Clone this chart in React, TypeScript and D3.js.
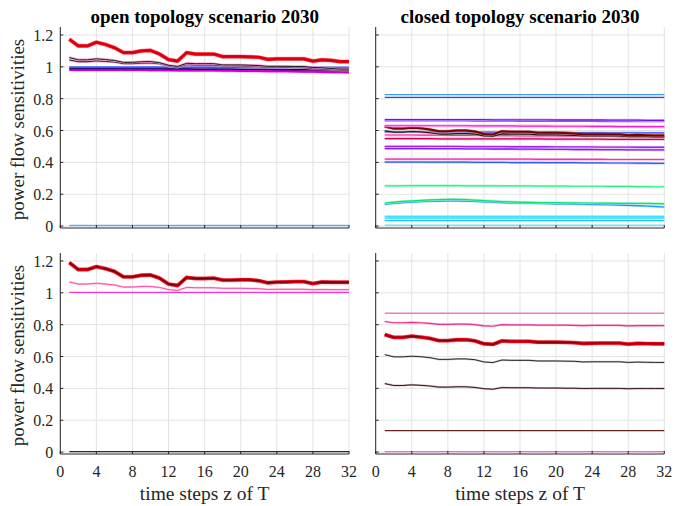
import React from "react";
import * as d3 from "d3";

const steps = [1,2,3,4,5,6,7,8,9,10,11,12,13,14,15,16,17,18,19,20,21,22,23,24,25,26,27,28,29,30,31,32];
const xTicks = [0,4,8,12,16,20,24,28,32];
const yTicks = [0,0.2,0.4,0.6,0.8,1,1.2];
const yTickLabels = ["0","0.2","0.4","0.6","0.8","1","1.2"];
const titles = ["open topology scenario 2030", "closed topology scenario 2030"];
const yLabel = "power flow sensitivities";
const xLabel = "time steps z of T";

// ---- top-left (open topology, row 1)
const tlRed = [1.173,1.131,1.131,1.154,1.140,1.120,1.089,1.089,1.100,1.103,1.080,1.045,1.036,1.089,1.080,1.080,1.080,1.064,1.064,1.064,1.062,1.060,1.047,1.050,1.050,1.050,1.050,1.036,1.044,1.040,1.033,1.033];
const tlBlack1 = [1.058,1.044,1.044,1.050,1.046,1.040,1.028,1.028,1.032,1.033,1.026,1.010,1.002,1.022,1.020,1.020,1.020,1.012,1.012,1.012,1.010,1.008,1.003,1.003,1.003,1.002,1.002,0.996,0.994,0.990,0.986,0.986];
const tlBlack2 = [1.043,1.032,1.032,1.037,1.034,1.030,1.020,1.020,1.023,1.024,1.019,1.004,0.997,1.013,1.011,1.011,1.011,1.006,1.006,1.005,1.003,1.001,0.997,0.997,0.996,0.995,0.994,0.989,0.986,0.983,0.980,0.980];
const tlBlue = [0.998,0.998,0.998,0.998,0.998,0.998,0.998,0.998,0.998,0.998,0.998,0.998,0.998,0.998,0.997,0.997,0.997,0.997,0.997,0.997,0.997,0.997,0.997,0.996,0.996,0.996,0.996,0.996,0.996,0.996,0.995,0.995];
const tlNavy = [0.990,0.990,0.990,0.990,0.990,0.990,0.990,0.989,0.989,0.989,0.989,0.988,0.988,0.988,0.987,0.987,0.987,0.986,0.986,0.985,0.985,0.984,0.984,0.983,0.983,0.982,0.981,0.981,0.980,0.979,0.978,0.978];
const tlMagenta = [0.982,0.982,0.982,0.982,0.982,0.982,0.981,0.981,0.981,0.980,0.980,0.980,0.979,0.979,0.979,0.978,0.978,0.977,0.977,0.976,0.976,0.975,0.974,0.974,0.973,0.972,0.971,0.970,0.969,0.968,0.967,0.966];
const tlLightBlue = [0.003,0.003,0.003,0.003,0.003,0.003,0.003,0.003,0.003,0.003,0.003,0.003,0.003,0.003,0.003,0.003,0.003,0.003,0.003,0.003,0.003,0.003,0.003,0.003,0.003,0.003,0.003,0.003,0.003,0.003,0.003,0.003];

// ---- top-right (closed topology, row 1)
const tr1 = [0.826,0.826,0.826,0.826,0.826,0.826,0.826,0.826,0.826,0.826,0.826,0.826,0.826,0.826,0.826,0.826,0.826,0.826,0.826,0.826,0.826,0.826,0.826,0.826,0.826,0.826,0.826,0.826,0.826,0.826,0.826,0.826];
const tr2 = [0.808,0.808,0.808,0.808,0.808,0.808,0.808,0.808,0.808,0.808,0.808,0.808,0.808,0.808,0.808,0.808,0.808,0.808,0.808,0.808,0.808,0.808,0.808,0.808,0.808,0.808,0.808,0.808,0.808,0.808,0.808,0.808];
const tr3 = [0.668,0.668,0.668,0.668,0.668,0.668,0.668,0.668,0.668,0.668,0.668,0.668,0.667,0.667,0.667,0.667,0.667,0.667,0.667,0.666,0.666,0.666,0.666,0.666,0.666,0.665,0.665,0.665,0.665,0.664,0.664,0.664];
const tr4 = [0.660,0.660,0.660,0.660,0.660,0.660,0.660,0.660,0.660,0.660,0.659,0.659,0.659,0.659,0.659,0.658,0.658,0.658,0.658,0.658,0.657,0.657,0.657,0.657,0.656,0.656,0.656,0.656,0.655,0.655,0.655,0.655];
const tr5 = [0.630,0.630,0.630,0.630,0.630,0.630,0.630,0.630,0.630,0.630,0.629,0.629,0.629,0.629,0.629,0.628,0.628,0.628,0.628,0.627,0.627,0.627,0.627,0.626,0.626,0.626,0.625,0.625,0.625,0.624,0.624,0.624];
const tr6 = [0.625,0.612,0.612,0.618,0.614,0.606,0.596,0.596,0.600,0.600,0.594,0.578,0.575,0.596,0.592,0.592,0.592,0.586,0.586,0.586,0.584,0.582,0.576,0.577,0.577,0.577,0.577,0.571,0.573,0.571,0.568,0.568];
const tr7 = [0.598,0.590,0.590,0.594,0.591,0.586,0.578,0.578,0.581,0.581,0.577,0.566,0.564,0.579,0.577,0.577,0.577,0.573,0.573,0.573,0.571,0.570,0.566,0.566,0.566,0.566,0.566,0.562,0.563,0.562,0.560,0.560];
const tr8 = [0.592,0.592,0.592,0.592,0.592,0.591,0.591,0.591,0.591,0.590,0.590,0.590,0.590,0.589,0.589,0.589,0.589,0.588,0.588,0.588,0.588,0.587,0.587,0.587,0.587,0.586,0.586,0.586,0.586,0.585,0.585,0.585];
const tr9 = [0.572,0.572,0.572,0.572,0.571,0.571,0.571,0.570,0.570,0.570,0.569,0.569,0.568,0.568,0.568,0.567,0.567,0.566,0.566,0.566,0.565,0.565,0.564,0.564,0.563,0.563,0.562,0.562,0.561,0.561,0.560,0.560];
const tr10 = [0.549,0.549,0.549,0.549,0.549,0.549,0.548,0.548,0.548,0.548,0.548,0.548,0.547,0.547,0.547,0.547,0.547,0.547,0.546,0.546,0.546,0.546,0.546,0.546,0.546,0.545,0.545,0.545,0.545,0.545,0.545,0.545];
const tr11 = [0.500,0.500,0.500,0.500,0.500,0.500,0.500,0.500,0.500,0.499,0.499,0.499,0.499,0.499,0.498,0.498,0.498,0.498,0.498,0.497,0.497,0.497,0.497,0.497,0.496,0.496,0.496,0.496,0.495,0.495,0.495,0.495];
const tr12 = [0.487,0.487,0.487,0.487,0.487,0.486,0.486,0.486,0.486,0.485,0.485,0.485,0.484,0.484,0.484,0.483,0.483,0.483,0.482,0.482,0.482,0.481,0.481,0.481,0.480,0.480,0.480,0.479,0.479,0.479,0.478,0.478];
const tr13 = [0.421,0.421,0.421,0.421,0.421,0.421,0.421,0.421,0.421,0.420,0.420,0.420,0.420,0.420,0.420,0.420,0.420,0.419,0.419,0.419,0.419,0.419,0.419,0.419,0.419,0.418,0.418,0.418,0.418,0.418,0.418,0.418];
const tr14 = [0.402,0.402,0.402,0.402,0.402,0.401,0.401,0.401,0.401,0.401,0.400,0.400,0.400,0.400,0.399,0.399,0.399,0.399,0.398,0.398,0.398,0.398,0.397,0.397,0.397,0.396,0.396,0.396,0.395,0.395,0.394,0.394];
const tr15 = [0.253,0.253,0.253,0.254,0.254,0.254,0.254,0.254,0.254,0.253,0.253,0.253,0.253,0.252,0.252,0.252,0.252,0.251,0.251,0.251,0.251,0.250,0.250,0.250,0.250,0.249,0.249,0.249,0.248,0.248,0.247,0.247];
const tr16 = [0.145,0.150,0.155,0.158,0.161,0.164,0.166,0.168,0.168,0.166,0.163,0.160,0.157,0.154,0.152,0.150,0.149,0.148,0.147,0.147,0.146,0.146,0.145,0.145,0.144,0.144,0.143,0.143,0.142,0.142,0.141,0.140];
const tr17 = [0.137,0.143,0.147,0.151,0.154,0.156,0.157,0.158,0.158,0.157,0.155,0.152,0.150,0.147,0.145,0.144,0.143,0.142,0.141,0.140,0.139,0.138,0.137,0.136,0.135,0.134,0.132,0.130,0.128,0.126,0.123,0.120];
const tr18 = [0.058,0.058,0.058,0.058,0.058,0.058,0.058,0.058,0.058,0.058,0.058,0.058,0.058,0.058,0.058,0.058,0.058,0.058,0.058,0.058,0.058,0.058,0.058,0.058,0.058,0.058,0.058,0.058,0.058,0.058,0.058,0.058];
const tr19 = [0.048,0.048,0.048,0.048,0.048,0.048,0.048,0.048,0.048,0.048,0.048,0.048,0.048,0.048,0.048,0.048,0.048,0.048,0.048,0.048,0.048,0.048,0.048,0.048,0.048,0.048,0.048,0.048,0.048,0.048,0.048,0.048];
const tr20 = [0.034,0.034,0.034,0.034,0.034,0.034,0.034,0.034,0.034,0.034,0.034,0.034,0.034,0.034,0.034,0.034,0.034,0.034,0.034,0.034,0.034,0.034,0.034,0.034,0.034,0.034,0.034,0.034,0.034,0.034,0.034,0.034];
const tr21 = [0.005,0.005,0.005,0.005,0.005,0.005,0.005,0.005,0.005,0.005,0.005,0.005,0.005,0.005,0.005,0.005,0.005,0.005,0.005,0.005,0.005,0.005,0.005,0.005,0.005,0.005,0.005,0.005,0.005,0.005,0.005,0.005];

// ---- bottom-left (open topology, row 2)
const blRed = [1.190,1.146,1.146,1.164,1.152,1.134,1.100,1.100,1.110,1.112,1.092,1.055,1.046,1.096,1.090,1.090,1.092,1.080,1.080,1.082,1.082,1.076,1.063,1.067,1.068,1.070,1.070,1.058,1.068,1.066,1.066,1.066];
const blPink = [1.068,1.055,1.055,1.060,1.055,1.049,1.036,1.036,1.040,1.040,1.034,1.020,1.015,1.034,1.032,1.032,1.032,1.028,1.028,1.028,1.027,1.026,1.021,1.022,1.022,1.022,1.022,1.019,1.021,1.020,1.020,1.020];
const blMagenta = [1.003,1.003,1.003,1.003,1.003,1.003,1.003,1.003,1.003,1.003,1.003,1.003,1.003,1.003,1.003,1.003,1.003,1.003,1.003,1.003,1.003,1.003,1.003,1.003,1.003,1.003,1.003,1.003,1.003,1.003,1.003,1.003];
const blBlack = [0.003,0.003,0.003,0.003,0.003,0.003,0.003,0.003,0.003,0.003,0.003,0.003,0.003,0.003,0.003,0.003,0.003,0.003,0.003,0.003,0.003,0.003,0.003,0.003,0.003,0.003,0.003,0.003,0.003,0.003,0.003,0.003];

// ---- bottom-right (closed topology, row 2)
const brPinkLight = [0.871,0.871,0.871,0.871,0.871,0.871,0.871,0.871,0.871,0.871,0.871,0.871,0.871,0.871,0.871,0.871,0.871,0.871,0.871,0.871,0.871,0.871,0.871,0.871,0.871,0.871,0.871,0.871,0.871,0.871,0.871,0.871];
const brPink = [0.820,0.812,0.812,0.814,0.812,0.808,0.802,0.802,0.804,0.804,0.800,0.793,0.790,0.800,0.799,0.799,0.799,0.797,0.797,0.797,0.797,0.796,0.794,0.795,0.795,0.795,0.795,0.793,0.794,0.794,0.794,0.794];
const brRed = [0.738,0.720,0.720,0.728,0.722,0.714,0.700,0.700,0.705,0.706,0.698,0.680,0.676,0.698,0.695,0.695,0.695,0.690,0.690,0.690,0.689,0.687,0.682,0.683,0.684,0.684,0.684,0.678,0.682,0.681,0.680,0.680];
const brBlack = [0.612,0.598,0.598,0.602,0.599,0.593,0.582,0.582,0.585,0.585,0.580,0.566,0.562,0.578,0.576,0.576,0.576,0.572,0.572,0.572,0.571,0.570,0.566,0.567,0.567,0.567,0.567,0.563,0.565,0.564,0.563,0.563];
const brBrown = [0.430,0.418,0.418,0.422,0.419,0.415,0.408,0.408,0.410,0.410,0.406,0.398,0.395,0.405,0.404,0.404,0.404,0.402,0.402,0.402,0.401,0.401,0.399,0.400,0.400,0.400,0.400,0.398,0.399,0.399,0.399,0.399];
const brDarkRed = [0.135,0.135,0.135,0.135,0.135,0.135,0.135,0.135,0.135,0.135,0.135,0.135,0.135,0.135,0.135,0.135,0.135,0.135,0.135,0.135,0.135,0.135,0.135,0.135,0.135,0.135,0.135,0.135,0.135,0.135,0.135,0.135];
const brMagenta = [0.002,0.002,0.002,0.002,0.002,0.002,0.002,0.002,0.002,0.002,0.002,0.002,0.002,0.002,0.002,0.002,0.002,0.002,0.002,0.002,0.002,0.002,0.002,0.002,0.002,0.002,0.002,0.002,0.002,0.002,0.002,0.002];

type S = { v: number[]; c: string; w: number; halo?: string; hw?: number; core?: string; cw?: number };

const panels: { x0: number; x1: number; y0: number; y1: number; series: S[]; title?: string; yLabels: boolean; xLabels: boolean }[] = [
  {
    x0: 60.3, x1: 349, y0: 27, y1: 228, title: titles[0], yLabels: true, xLabels: false,
    series: [
      { v: tlLightBlue, c: "#5fb0ee", w: 1.5 },
      { v: tlMagenta, c: "#d000d0", w: 2.5, halo: "#ff80ff", hw: 3.5 },
      { v: tlNavy, c: "#220066", w: 1.5 },
      { v: tlBlue, c: "#3a5cf0", w: 2 },
      { v: tlBlack2, c: "#222222", w: 1, halo: "#e9a0c8", hw: 2.5 },
      { v: tlBlack1, c: "#222222", w: 1, halo: "#f08cc0", hw: 2.5 },
      { v: tlRed, c: "#ee0011", w: 3.2, halo: "#ff7a8a", hw: 4.2, core: "#b00010", cw: 1 },
    ],
  },
  {
    x0: 375.7, x1: 664.3, y0: 27, y1: 228, title: titles[1], yLabels: false, xLabels: false,
    series: [
      { v: tr21, c: "#66e6ff", w: 1.5 },
      { v: tr20, c: "#1ac6ff", w: 1.2 },
      { v: tr19, c: "#55d8ff", w: 1.5 },
      { v: tr18, c: "#33e6ff", w: 2, halo: "#a8f4ff", hw: 3 },
      { v: tr17, c: "#1a8cff", w: 1.2, halo: "#9cc8ff", hw: 2.4 },
      { v: tr16, c: "#00e673", w: 1.2, halo: "#9cf5c8", hw: 2.6 },
      { v: tr15, c: "#2cf08a", w: 1.2, halo: "#a8f8cc", hw: 2.6 },
      { v: tr14, c: "#2f5bf0", w: 1.2, halo: "#a9b9f5", hw: 2.4 },
      { v: tr13, c: "#f030b8", w: 1.2, halo: "#f7a8dd", hw: 2.6 },
      { v: tr12, c: "#8a1cf5", w: 1.3, halo: "#c9a0f8", hw: 2.5 },
      { v: tr11, c: "#a622e6", w: 1.3, halo: "#dba5f5", hw: 2.5 },
      { v: tr10, c: "#cc0055", w: 1.2, halo: "#f0a0c0", hw: 2.8 },
      { v: tr9, c: "#ff2aa0", w: 1.2, halo: "#ffb0d8", hw: 2.8 },
      { v: tr8, c: "#3355ee", w: 1.2, halo: "#a9b8f5", hw: 2.4 },
      { v: tr7, c: "#1a1a1a", w: 1.2, halo: "#b0b0b0", hw: 2.4 },
      { v: tr6, c: "#7a0000", w: 2, halo: "#c07070", hw: 3 },
      { v: tr5, c: "#ff1ad0", w: 1.2, halo: "#ffa8e8", hw: 3 },
      { v: tr4, c: "#9b30ff", w: 1.2 },
      { v: tr3, c: "#7214f0", w: 1.3, halo: "#c6a4f8", hw: 2.6 },
      { v: tr2, c: "#1e50e6", w: 1.2 },
      { v: tr1, c: "#3a98ff", w: 1.2 },
    ],
  },
  {
    x0: 60.3, x1: 349, y0: 253, y1: 454, yLabels: true, xLabels: true,
    series: [
      { v: blBlack, c: "#2a2a2a", w: 1.2 },
      { v: blMagenta, c: "#ff33cc", w: 1.2 },
      { v: blPink, c: "#ff4da6", w: 1, halo: "#ffb3d6", hw: 2 },
      { v: blRed, c: "#e8001a", w: 3.4, halo: "#ff7a8a", hw: 4.2, core: "#3a0000", cw: 1.4 },
    ],
  },
  {
    x0: 375.7, x1: 664.3, y0: 253, y1: 454, yLabels: false, xLabels: true,
    series: [
      { v: brMagenta, c: "#ff33cc", w: 1.2 },
      { v: brDarkRed, c: "#6b1f1f", w: 1.2 },
      { v: brBrown, c: "#3a1a1a", w: 1, halo: "#c0a0a0", hw: 2 },
      { v: brBlack, c: "#2a2a2a", w: 1, halo: "#c0c0c0", hw: 2 },
      { v: brRed, c: "#e8001a", w: 3.4, halo: "#ff7a8a", hw: 4.2, core: "#500000", cw: 1.4 },
      { v: brPink, c: "#e8338c", w: 1.2, halo: "#f8b0d4", hw: 2.2 },
      { v: brPinkLight, c: "#f07ab8", w: 1.5 },
    ],
  },
];

const FONT = "Liberation Serif";

function Panel({ p }: { p: (typeof panels)[number] }) {
  const x = d3.scaleLinear().domain([0, 32]).range([p.x0, p.x1]);
  const y = d3.scaleLinear().domain([-0.012, 1.25]).range([p.y1, p.y0]);
  const line = (vals: number[]) =>
    d3.line<number>().x((_, i) => x(steps[i])).y((d) => y(d))(vals) || "";
  return (
    <g>
      {xTicks.map((t) => (
        <line key={"gx" + t} x1={x(t)} x2={x(t)} y1={p.y0} y2={p.y1} stroke="#e3e3e3" strokeWidth={1} />
      ))}
      {yTicks.map((t) => (
        <line key={"gy" + t} x1={p.x0} x2={p.x1} y1={y(t)} y2={y(t)} stroke="#e3e3e3" strokeWidth={1} />
      ))}
      {p.series.map((s, i) => (
        <g key={i}>
          {s.halo && <path d={line(s.v)} fill="none" stroke={s.halo} strokeWidth={s.hw} opacity={0.8} />}
          <path d={line(s.v)} fill="none" stroke={s.c} strokeWidth={s.w} strokeLinejoin="round" />
          {s.core && <path d={line(s.v)} fill="none" stroke={s.core} strokeWidth={s.cw} opacity={0.7} />}
        </g>
      ))}
      <line x1={p.x0} x2={p.x0} y1={p.y0} y2={p.y1} stroke="#262626" strokeWidth={1} />
      <line x1={p.x0} x2={p.x1} y1={p.y1} y2={p.y1} stroke="#262626" strokeWidth={1} />
      {xTicks.map((t) => (
        <line key={"tx" + t} x1={x(t)} x2={x(t)} y1={p.y1} y2={p.y1 - 3} stroke="#262626" strokeWidth={1} />
      ))}
      {yTicks.map((t) => (
        <line key={"ty" + t} x1={p.x0} x2={p.x0 + 3} y1={y(t)} y2={y(t)} stroke="#262626" strokeWidth={1} />
      ))}
      {p.yLabels &&
        yTicks.map((t, i) => (
          <text key={"ly" + t} x={p.x0 - 7} y={y(t) + 6} textAnchor="end" fontFamily={FONT} fontSize={16} fill="#262626">
            {yTickLabels[i]}
          </text>
        ))}
      {p.xLabels &&
        xTicks.map((t) => (
          <text key={"lx" + t} x={x(t)} y={p.y1 + 23} textAnchor="middle" fontFamily={FONT} fontSize={16} fill="#262626">
            {t}
          </text>
        ))}
      {p.xLabels && (
        <text x={(p.x0 + p.x1) / 2} y={499.5} textAnchor="middle" fontFamily={FONT} fontSize={19.5} fill="#262626">
          {xLabel}
        </text>
      )}
      {p.yLabels && (
        <text
          transform={`translate(${24},${(p.y0 + p.y1) / 2 + 2}) rotate(-90)`}
          textAnchor="middle"
          fontFamily={FONT}
          fontSize={19}
          fill="#262626"
        >
          {yLabel}
        </text>
      )}
      {p.title && (
        <text x={(p.x0 + p.x1) / 2} y={22.5} textAnchor="middle" fontFamily={FONT} fontSize={19} fontWeight="bold" fill="#000">
          {p.title}
        </text>
      )}
    </g>
  );
}

export default function App() {
  return (
    <svg width={674} height={506} style={{ position: "absolute", left: 0, top: 0, background: "#fff" }}>
      <rect width={674} height={506} fill="#fff" />
      {panels.map((p, i) => (
        <Panel key={i} p={p} />
      ))}
    </svg>
  );
}
